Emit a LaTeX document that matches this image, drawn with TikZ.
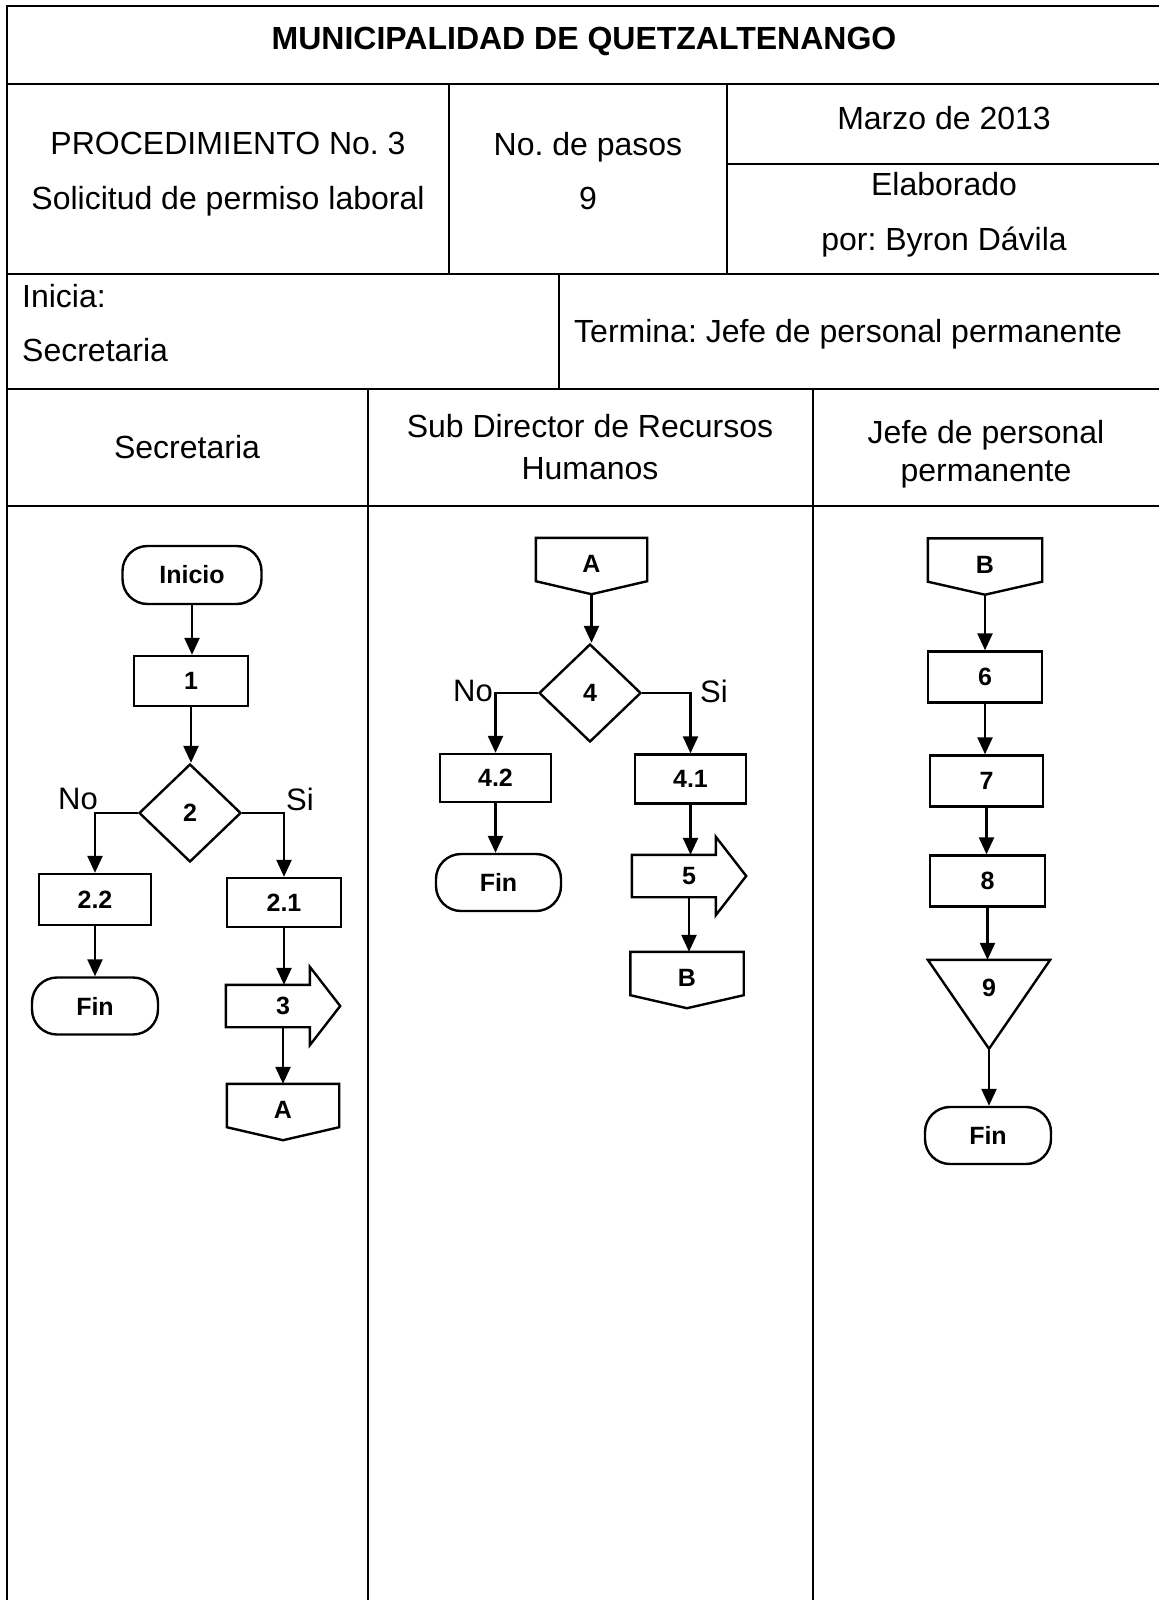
\documentclass[tikz,border=0pt]{standalone}
\usepackage{fontspec}
\setmainfont{Liberation Sans}
\usetikzlibrary{arrows.meta,shapes.geometric,calc}
\frenchspacing

\begin{document}
\begin{tikzpicture}[x=1pt,y=-1pt,
  frame/.style={line width=2.8pt},
  hdr/.style={font=\fontsize{32}{38}\selectfont, inner sep=0pt, anchor=base},
  lbl/.style={font=\fontsize{31}{36}\selectfont, inner sep=0pt},
  nodefont/.style={font=\fontsize{25}{30}\selectfont\bfseries},
  proc/.style={draw, line width=2.4pt, nodefont, minimum width=114pt, minimum height=50pt, inner sep=0pt},
  term/.style={proc, rounded corners=25pt, minimum width=126pt, minimum height=57pt},
  dec/.style={draw, diamond, line width=2.4pt, nodefont, minimum width=102pt, minimum height=98pt, inner sep=0pt},
  conn/.style={nodefont, minimum width=112pt, minimum height=43pt, inner sep=0pt, text height=26pt, text depth=0pt},
  bigarrow/.style={nodefont, minimum width=114pt, minimum height=42pt, inner sep=0pt},
  outline/.style={line width=2.4pt, line join=miter},
  flow/.style={line width=2.4pt, -{Triangle[length=17pt,width=15pt]}},
]
\useasboundingbox (0,0) rectangle (1159,1600);

% ---------- form frame ----------
\draw[frame] (7,1600) -- (7,6) -- (1159,6);
\draw[frame] (7,84) -- (1159,84);
\draw[frame] (7,274) -- (1159,274);
\draw[frame] (7,389) -- (1159,389);
\draw[frame] (7,506) -- (1159,506);
\draw[frame] (727,164) -- (1159,164);
\draw[frame] (449,84) -- (449,274);
\draw[frame] (727,84) -- (727,274);
\draw[frame] (559,274) -- (559,389);
\draw[frame] (368,389) -- (368,1600);
\draw[frame] (813,389) -- (813,1600);

% ---------- header texts ----------
\node[hdr, font=\fontsize{32}{38}\selectfont\bfseries] (title) at (584,50) {MUNICIPALIDAD DE QUETZALTENANGO};
\node[hdr] (proc3) at (228,154) {PROCEDIMIENTO No. 3};
\node[hdr] (solic) at (228,209) {Solicitud de permiso laboral};
\node[hdr] (npasos) at (588,155) {No. de pasos};
\node[hdr] (nueve) at (588,209) {9};
\node[hdr] (fecha) at (944,129) {Marzo de 2013};
\node[hdr] (elab) at (944,195) {Elaborado};
\node[hdr] (autor) at (944,250) {por: Byron Dávila};
\node[hdr, anchor=base west] (inicia) at (22,307) {Inicia:};
\node[hdr, anchor=base west] (iniciaq) at (22,361) {Secretaria};
\node[hdr, anchor=base west] (termina) at (574,342) {Termina: Jefe de personal permanente};
\node[hdr] (lane1) at (187,458) {Secretaria};
\node[hdr] (lane2a) at (590,437) {Sub Director de Recursos};
\node[hdr] (lane2b) at (590,479) {Humanos};
\node[hdr] (lane3a) at (986,443) {Jefe de personal};
\node[hdr] (lane3b) at (986,481) {permanente};

% ---------- lane 1: Secretaria ----------
\node[term, minimum width=139pt, minimum height=58pt] (ini) at (192,575) {Inicio};
\node[proc] (b1) at (191,681) {1};
\node[dec] (d2) at (190,813) {2};
\node[lbl] (no2) at (78,799) {No};
\node[lbl] (si2) at (300,799) {Si};
\node[proc, minimum width=112pt, minimum height=51pt] (b22) at (95,899.5) {2.2};
\node[proc, minimum height=49pt] (b21) at (284,902.5) {2.1};
\node[term] (f1) at (95,1006) {Fin};
\node[bigarrow] (s3) at (283,1006) {3};
\node[conn] (A1) at (283,1105.5) {A};

% ---------- lane 2: Sub Director de Recursos Humanos ----------
\node[conn, minimum width=111pt] (A2) at (591.5,559.5) {A};
\node[dec] (d4) at (590,693) {4};
\node[lbl] (no4) at (473,691) {No};
\node[lbl] (si4) at (714,691) {Si};
\node[proc, minimum width=111pt, minimum height=48pt] (b42) at (495.5,778) {4.2};
\node[proc, minimum width=111pt, minimum height=49pt] (b41) at (690.5,779) {4.1};
\node[term, minimum width=125pt] (f2) at (498.5,882.5) {Fin};
\node[bigarrow] (s5) at (689,876) {5};
\node[conn, minimum width=113pt] (B2) at (687,973.5) {B};

% ---------- lane 3: Jefe de personal permanente ----------
\node[conn, minimum width=114pt] (B3) at (985,560) {B};
\node[proc, minimum height=51pt] (b6) at (985,677) {6};
\node[proc, minimum width=113pt, minimum height=51pt] (b7) at (986.5,781) {7};
\node[proc, minimum width=115pt, minimum height=51pt] (b8) at (987.5,881) {8};
\node[nodefont, minimum width=122pt, minimum height=56pt, inner sep=0pt] (t9) at (989,988) {9};
\node[term] (f3) at (988,1135.5) {Fin};

% ---------- off-page connector outlines ----------
\foreach \n in {A1,A2,B2,B3}{
  \draw[outline] (\n.north west) -- (\n.north east) -- (\n.south east)
    -- ($(\n.south)+(0,13)$) coordinate (\n-tip) -- (\n.south west) -- cycle;
}

% ---------- block arrow outlines ----------
\foreach \n in {s3,s5}{
  \draw[outline] (\n.north west) -- ++(84,0) -- ++(0,-18) -- (\n.east)
    -- ($(\n.south west)+(84,18)$) -- ++(0,-18) -- (\n.south west) -- cycle;
}

% ---------- merge triangle ----------
\draw[outline] (t9.north west) -- (t9.north east)
  -- ($(t9.north)+(0,89)$) coordinate (t9-tip) -- cycle;

% ---------- connectors, lane 1 ----------
\draw[flow] (ini.south) -- (ini.south |- b1.north);
\draw[flow] (b1.south) -- (b1.south |- d2.north);
\draw[flow] (d2.west) -| (b22.north);
\draw[flow] (d2.east) -| (b21.north);
\draw[flow] (b22.south) -- (f1.north);
\draw[flow] (b21.south) -- (b21.south |- s3.north);
\draw[flow] (s3.south) -- (A1.north);

% ---------- connectors, lane 2 ----------
\draw[flow] (A2-tip) -- (A2-tip |- d4.north);
\draw[flow] (d4.west) -| (b42.north);
\draw[flow] (d4.east) -| (b41.north);
\draw[flow] (b42.south) -- (b42.south |- f2.north);
\draw[flow] (b41.south) -- (b41.south |- s5.north);
\draw[flow] (s5.south) -- (s5.south |- B2.north);

% ---------- connectors, lane 3 ----------
\draw[flow] (B3-tip) -- (B3-tip |- b6.north);
\draw[flow] (b6.south) -- (b6.south |- b7.north);
\draw[flow] (b7.south) -- (b7.south |- b8.north);
\draw[flow] (b8.south) -- (b8.south |- t9.north);
\draw[flow] (t9-tip) -- (t9-tip |- f3.north);
\end{tikzpicture}
\end{document}
